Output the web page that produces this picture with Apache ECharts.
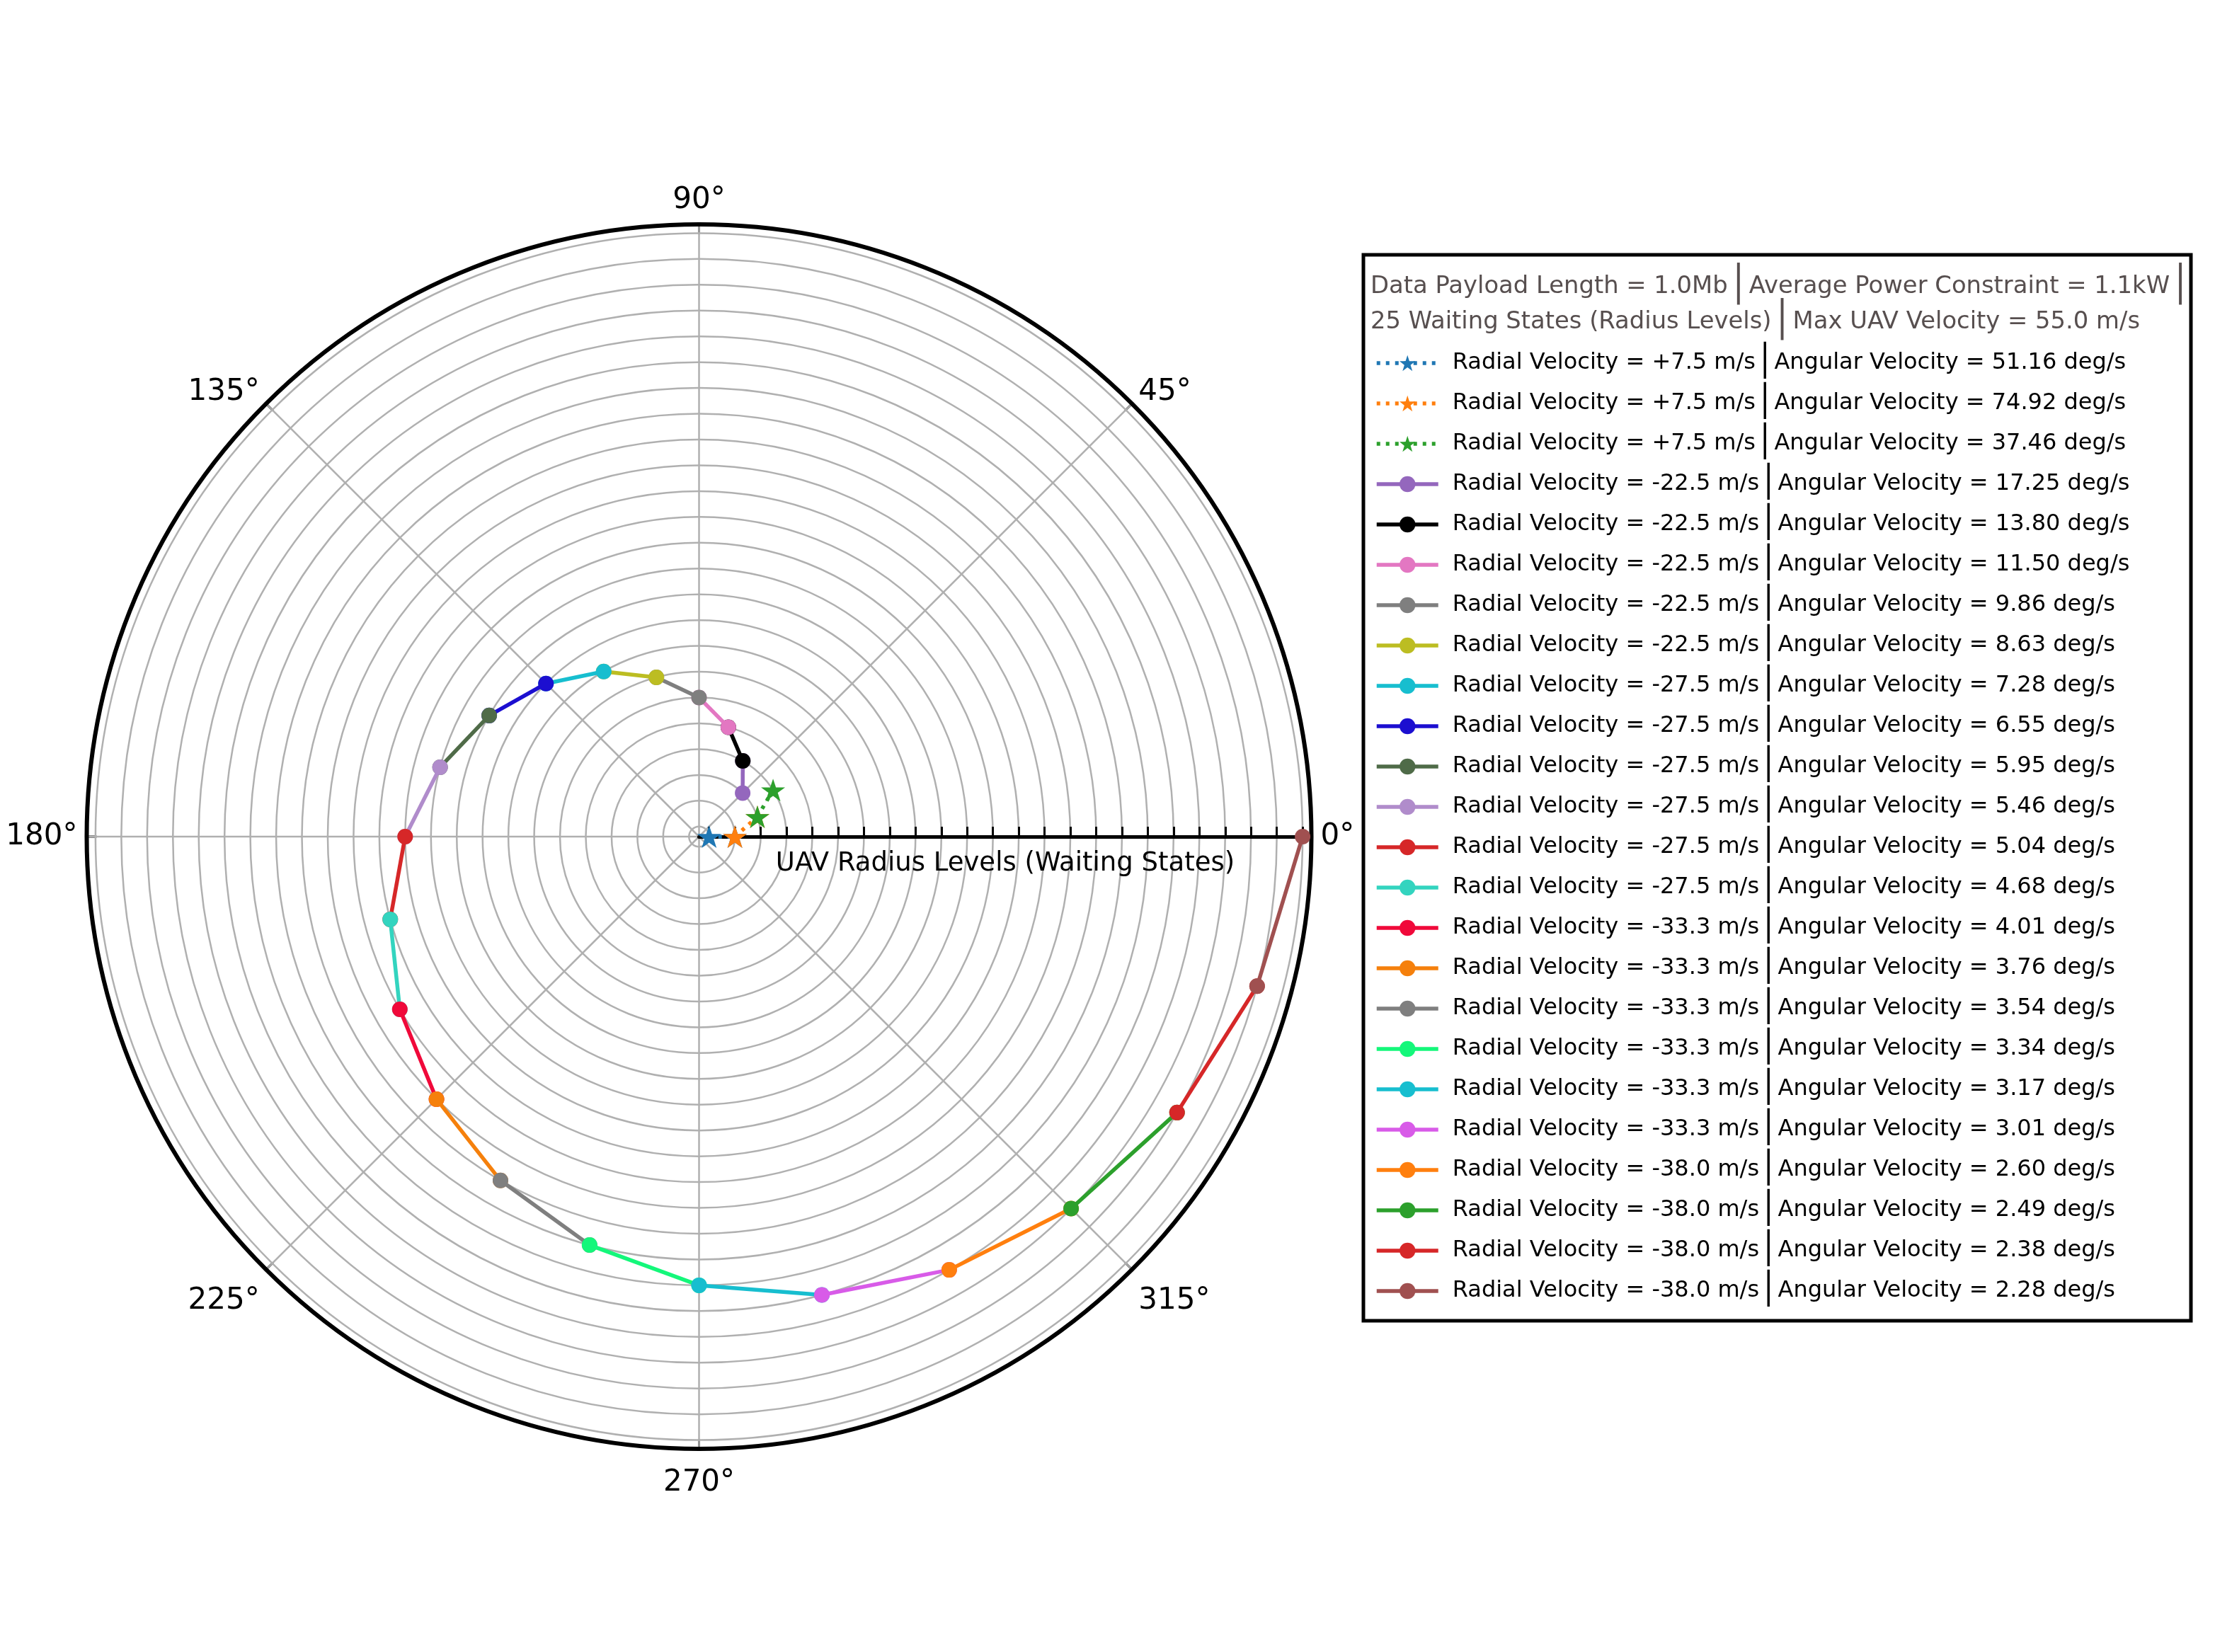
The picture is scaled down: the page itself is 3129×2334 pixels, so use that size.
<!DOCTYPE html>
<html><head><meta charset="utf-8">
<script src="https://cdn.jsdelivr.net/npm/echarts@6/dist/echarts.min.js"></script>
<style>html,body{margin:0;padding:0;background:#fff}#c{width:3129px;height:2334px}</style>
</head><body><div id="c"></div>
<script>
// ---- data ----
const radialVelocities = ['+7.5','+7.5','+7.5','-22.5','-22.5','-22.5','-22.5','-22.5','-27.5','-27.5','-27.5','-27.5','-27.5','-27.5','-33.3','-33.3','-33.3','-33.3','-33.3','-33.3','-38.0','-38.0','-38.0','-38.0'];
const angularVelocities = ['51.16','74.92','37.46','17.25','13.80','11.50','9.86','8.63','7.28','6.55','5.95','5.46','5.04','4.68','4.01','3.76','3.54','3.34','3.17','3.01','2.60','2.49','2.38','2.28'];
const seriesColors = ['#1f77b4','#ff7f0e','#2ca02c','#9467bd','#000000','#e377c2','#7f7f7f','#bcbd22','#17becf','#1c0fd0','#4f6b48','#b08ccb','#d62728','#33d4bf','#f0093a','#f5800c','#7f7f7f','#14f77a','#17becf','#d85be8','#ff7f0e','#2ca02c','#d62728','#a05050'];
// outward (star) trajectory: radius level, angle in degrees
const starLevels = [1, 2, 3, 4];
const starAngles = [0, 0, 18.8, 32.2];
// inward (circle) trajectory: radius level, angle in degrees
const pathLevels = [3, 4, 5, 6, 7, 8, 9, 10, 11, 12, 13, 14, 15, 16, 17, 18, 19, 20, 21, 22, 23, 24];
const pathAngles = [45, 60, 75, 90, 105, 120, 135, 150, 165, 180, 195, 210, 225, 240, 255, 270, 285, 300, 315, 330, 345, 360];
const radialTickLevels = [1, 2, 3, 4, 5, 6, 7, 8, 9, 10, 11, 12, 13, 14, 15, 16, 17, 18, 19, 20, 21, 22, 23, 24];
const headerLine1 = ['Data Payload Length = 1.0Mb', 'Average Power Constraint = 1.1kW', ''];
const headerLine2 = ['25 Waiting States (Radius Levels)', 'Max UAV Velocity = 55.0 m/s'];
const radiusAxisName = 'UAV Radius Levels (Waiting States)';

const FONT = 'DejaVu Sans';
const SEP = '\u2502';
const starPath = 'path://M50,0 L61.8,35.1 L98.9,35.1 L69,56.9 L80.3,91.9 L50,70.2 L19.7,91.9 L31,56.9 L1.1,35.1 L38.2,35.1 Z';

const names = radialVelocities.map((rv, i) =>
  'Radial Velocity = ' + rv + ' m/s ' + SEP + ' Angular Velocity = ' + angularVelocities[i] + ' deg/s');

const series = names.map((nm, i) => {
  const isStar = i < 3;
  let pts;
  if (isStar) {
    pts = [[starLevels[i], starAngles[i]], [starLevels[i + 1], starAngles[i + 1]]];
  } else {
    const k = i - 3;
    pts = [[pathLevels[k], pathAngles[k]], [pathLevels[k + 1], pathAngles[k + 1]]];
  }
  return {
    name: nm,
    type: 'line',
    coordinateSystem: 'polar',
    polarIndex: 0,
    data: pts,
    symbol: isStar ? starPath : 'circle',
    symbolSize: isStar ? 34 : 22,
    symbolKeepAspect: true,
    showAllSymbol: true,
    color: seriesColors[i],
    itemStyle: { color: seriesColors[i] },
    lineStyle: isStar
      ? { color: seriesColors[i], width: 5.5, type: [5, 8], cap: 'butt' }
      : { color: seriesColors[i], width: 5.5 },
    emphasis: { disabled: true },
    clip: false,
    z: 10 + i
  };
});

function richJoin(parts, style, sepStyle) {
  return parts.map(p => (p ? '{' + style + '|' + p + '}' : '')).join('{' + sepStyle + '|' + SEP + '}');
}
const headerText = richJoin(headerLine1, 'g', 'b') + '\n' + richJoin(headerLine2, 'g', 'b');

const chart = echarts.init(document.getElementById('c'), null, { renderer: 'canvas' });
chart.setOption({
  animation: false,
  backgroundColor: '#ffffff',
  polar: { center: [987.5, 1182], radius: 865 },
  angleAxis: {
    type: 'value', min: 0, max: 360, interval: 45, startAngle: 0, clockwise: false,
    axisLine: { show: true, lineStyle: { color: '#000', width: 6 } },
    axisTick: { show: true, inside: true, length: 14, lineStyle: { color: '#000', width: 3 } },
    axisLabel: {
      show: true, margin: 13, fontFamily: FONT, fontSize: 42, color: '#000',
      formatter: v => {
        const key = (v === 45 || v === 135) ? 'lo' : (v >= 225 && v <= 315) ? 'hi' : 'n';
        return '{' + key + '|' + v + '\u00b0}';
      },
      rich: {
        n: { fontFamily: FONT, fontSize: 42, color: '#000', lineHeight: 42 },
        lo: { fontFamily: FONT, fontSize: 42, color: '#000', lineHeight: 14 },
        hi: { fontFamily: FONT, fontSize: 42, color: '#000', lineHeight: 70 }
      }
    },
    splitLine: { show: true, lineStyle: { color: '#b0b0b0', width: 2.5 } }
  },
  radiusAxis: {
    type: 'value', min: 0.61, max: 24.34,
    name: radiusAxisName, nameLocation: 'middle', nameGap: 20,
    nameTextStyle: { fontFamily: FONT, fontSize: 37, color: '#000' },
    axisLine: { show: true, lineStyle: { color: '#000', width: 5 } },
    axisTick: { show: true, length: 14, customValues: radialTickLevels, lineStyle: { color: '#000', width: 3 } },
    axisLabel: { show: false, customValues: radialTickLevels },
    splitLine: { show: true, lineStyle: { color: '#b0b0b0', width: 2.5 } },
    z: 5
  },
  graphic: [{
    type: 'rect', z: -1,
    shape: { x: 1926, y: 360, width: 1169, height: 1506 },
    style: { fill: '#fff', stroke: '#000', lineWidth: 5 }
  }],
  title: {
    text: headerText, left: 1936, top: 380, padding: 0,
    textStyle: {
      fontWeight: 'normal',
      rich: {
        g: { fontFamily: FONT, fontSize: 33.8, fontWeight: 'normal', color: '#574f4f', lineHeight: 50 },
        b: { fontFamily: FONT, fontSize: 50, fontWeight: 'normal', color: '#574f4f', lineHeight: 50 }
      }
    }
  },
  legend: {
    data: names, orient: 'vertical', left: 1942, top: 491, padding: 0,
    itemWidth: 87, itemHeight: 28, itemGap: 13,
    selectedMode: false,
    lineStyle: { width: 5.5 },
    formatter: nm => {
      const p = nm.split(' ' + SEP + ' ');
      return '{f|' + p[0] + '}{s|' + SEP + '}{t|' + p[1] + '}';
    },
    textStyle: {
      fontFamily: FONT, fontSize: 32, color: '#000',
      rich: {
        f: { fontFamily: FONT, fontSize: 32, color: '#000', lineHeight: 52, padding: [0, 0, 0, 15] },
        t: { fontFamily: FONT, fontSize: 32, color: '#000', lineHeight: 52 },
        s: { fontFamily: FONT, fontSize: 44, color: '#000', lineHeight: 52 }
      }
    }
  },
  series: series
});
</script></body></html>
